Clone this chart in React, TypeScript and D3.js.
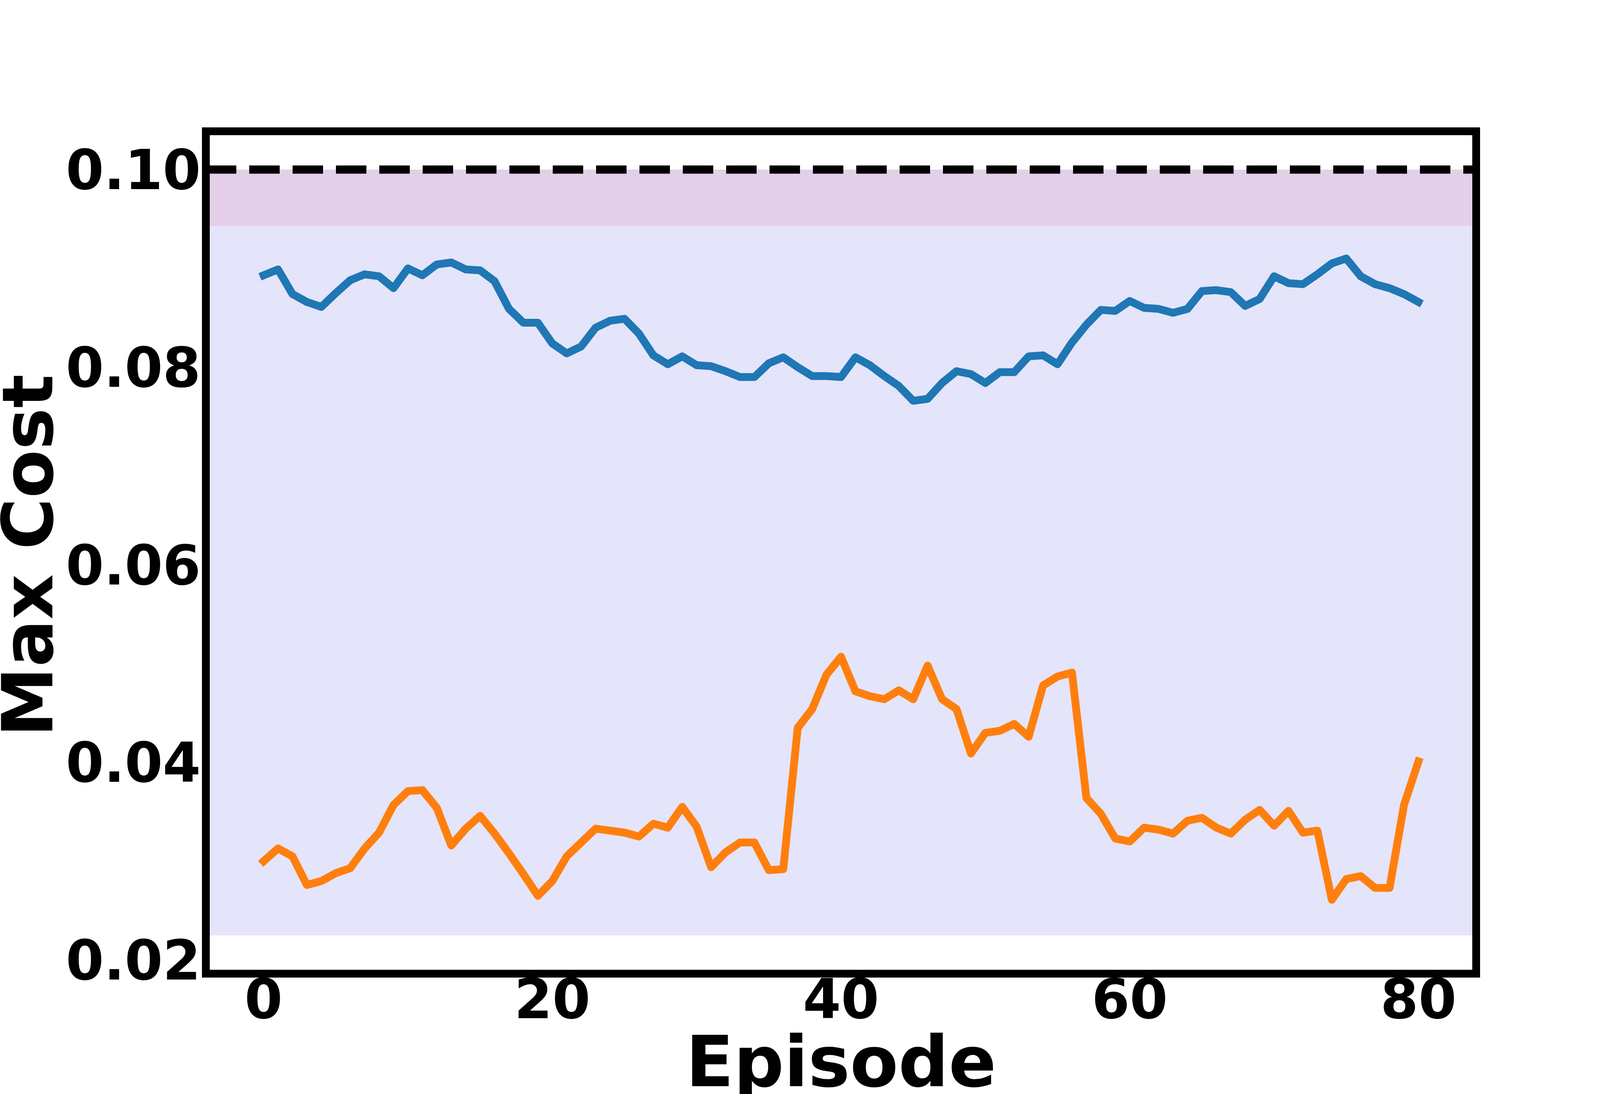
import React from 'react';
import * as d3 from 'd3';

// episode index 0..80
const episodes: number[] = Array.from({ length: 81 }, (_, i) => i);

const costBlue: number[] = [
  0.0893, 0.0899, 0.0874, 0.0866, 0.0861, 0.0875, 0.0888, 0.0894, 0.0892, 0.0880,
  0.0900, 0.0893, 0.0904, 0.0906, 0.0899, 0.0898, 0.0887, 0.0859, 0.0845, 0.0845,
  0.0824, 0.0814, 0.0821, 0.0840, 0.0847, 0.0849, 0.0834, 0.0812, 0.0803, 0.0811,
  0.0802, 0.0801, 0.0796, 0.0790, 0.0790, 0.0804, 0.0810, 0.0800, 0.0791, 0.0791,
  0.0790, 0.0810, 0.0802, 0.0791, 0.0781, 0.0766, 0.0768, 0.0784, 0.0796, 0.0793,
  0.0784, 0.0795, 0.0795, 0.0811, 0.0812, 0.0803, 0.0825, 0.0843, 0.0858, 0.0857,
  0.0867, 0.0860, 0.0859, 0.0855, 0.0859, 0.0877, 0.0878, 0.0876, 0.0862, 0.0869,
  0.0892, 0.0885, 0.0884, 0.0894, 0.0905, 0.0910, 0.0892, 0.0884, 0.0880, 0.0874,
  0.0866,
];

const costOrange: number[] = [
  0.0300, 0.0313, 0.0305, 0.0276, 0.0280, 0.0288, 0.0293, 0.0313, 0.0329, 0.0357,
  0.0371, 0.0372, 0.0354, 0.0316, 0.0333, 0.0346, 0.0328, 0.0308, 0.0287, 0.0265,
  0.0280, 0.0305, 0.0319, 0.0333, 0.0331, 0.0329, 0.0325, 0.0338, 0.0334, 0.0355,
  0.0335, 0.0294, 0.0309, 0.0319, 0.0319, 0.0291, 0.0292, 0.0435, 0.0454, 0.0489,
  0.0507, 0.0472, 0.0467, 0.0464, 0.0473, 0.0464, 0.0498, 0.0464, 0.0454, 0.0409,
  0.0430, 0.0432, 0.0439, 0.0426, 0.0478, 0.0487, 0.0491, 0.0364, 0.0348, 0.0323,
  0.0320, 0.0334, 0.0332, 0.0328, 0.0341, 0.0344, 0.0334, 0.0328, 0.0342, 0.0352,
  0.0336, 0.0351, 0.0329, 0.0331, 0.0261, 0.0282, 0.0285, 0.0273, 0.0273, 0.0357,
  0.0401,
];

const costLimit = 0.1;
const bandTop = 0.0943; // start of the pink warning band
const bandBottom = 0.0225;

const xTicks: number[] = [0, 20, 40, 60, 80];
const yTicks: number[] = [0.02, 0.04, 0.06, 0.08, 0.1];

const W = 4200;
const H = 2800;
const FONT = '"DejaVu Sans", sans-serif';

export default function App() {
  const left = 527;
  const right = 3779;
  const top = 336;
  const bottom = 2492;

  const x = d3.scaleLinear().domain([-4, 84]).range([left, right]);
  const y = d3.scaleLinear().domain([0.018625, 0.103875]).range([bottom, top]);

  const line = d3
    .line<number>()
    .x((_, i) => x(episodes[i]))
    .y((d) => y(d));

  return (
    <svg
      width={W}
      height={H}
      viewBox={`0 0 ${W} ${H}`}
      style={{ position: 'absolute', left: 0, top: 0, background: '#fff' }}
      fontFamily={FONT}
      fontWeight="bold"
    >
      <rect x={0} y={0} width={W} height={H} fill="#ffffff" />

      {/* safe band + warning band */}
      <rect
        x={left}
        y={y(bandTop)}
        width={right - left}
        height={y(bandBottom) - y(bandTop)}
        fill="#e4e4fa"
      />
      <rect
        x={left}
        y={y(costLimit)}
        width={right - left}
        height={y(bandTop) - y(costLimit)}
        fill="#e4cfe8"
      />

      {/* cost limit */}
      <line
        x1={left}
        x2={right}
        y1={y(costLimit)}
        y2={y(costLimit)}
        stroke="#000"
        strokeWidth={21}
        strokeDasharray="78 33"
      />

      <path
        d={line(costBlue) ?? ''}
        fill="none"
        stroke="#1f77b4"
        strokeWidth={20}
        strokeLinejoin="round"
        strokeLinecap="square"
      />
      <path
        d={line(costOrange) ?? ''}
        fill="none"
        stroke="#ff7f0e"
        strokeWidth={20}
        strokeLinejoin="round"
        strokeLinecap="square"
      />

      {/* frame */}
      <rect
        x={left}
        y={top}
        width={right - left}
        height={bottom - top}
        fill="none"
        stroke="#000"
        strokeWidth={20}
      />

      {yTicks.map((t) => (
        <text key={t} x={514} y={y(t) + 50} textAnchor="end" fontSize={140} fill="#000">
          {t.toFixed(2)}
        </text>
      ))}
      {xTicks.map((t) => (
        <text key={t} x={x(t)} y={2606} textAnchor="middle" fontSize={140} fill="#000">
          {t}
        </text>
      ))}

      <text x={(left + right) / 2} y={2780} textAnchor="middle" fontSize={180} fill="#000">
        Episode
      </text>
      <text
        transform={`translate(134, ${(top + bottom) / 2 + 8}) rotate(-90)`}
        textAnchor="middle"
        fontSize={180}
        fill="#000"
      >
        Max Cost
      </text>
    </svg>
  );
}
